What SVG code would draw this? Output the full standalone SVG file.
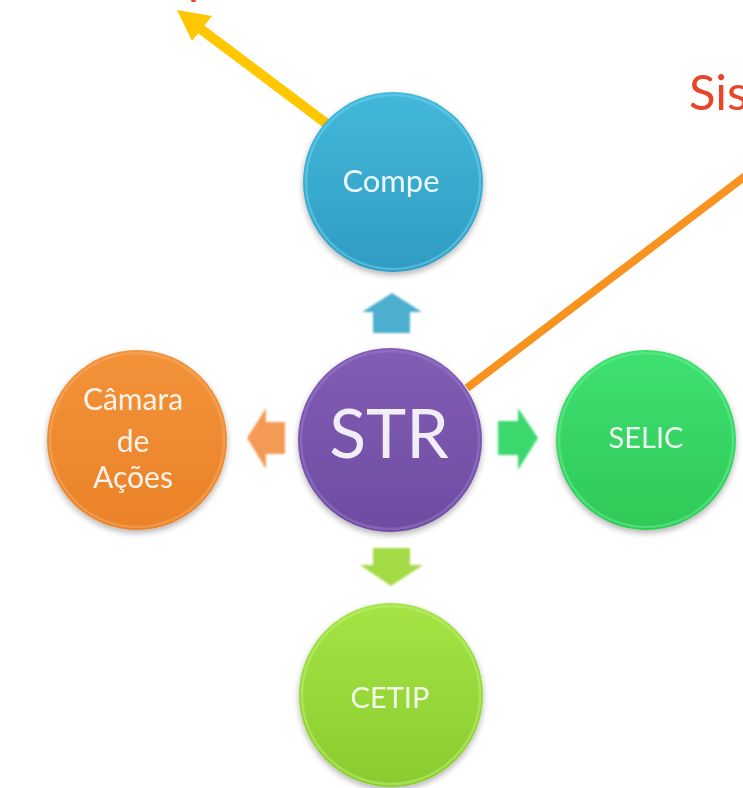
<svg xmlns="http://www.w3.org/2000/svg" width="743" height="788" viewBox="0 0 743 788">
  <defs>
    <linearGradient id="gBlue" x1="0" y1="0" x2="0" y2="1">
      <stop offset="0" stop-color="#43B8DA"/>
      <stop offset="1" stop-color="#2F9CC3"/>
    </linearGradient>
    <linearGradient id="gPurple" x1="0" y1="0" x2="0" y2="1">
      <stop offset="0" stop-color="#825DB5"/>
      <stop offset="1" stop-color="#6E4CA2"/>
    </linearGradient>
    <linearGradient id="gOrange" x1="0" y1="0" x2="0" y2="1">
      <stop offset="0" stop-color="#F3923A"/>
      <stop offset="1" stop-color="#EA8228"/>
    </linearGradient>
    <linearGradient id="gGreen" x1="0" y1="0" x2="0" y2="1">
      <stop offset="0" stop-color="#3EE072"/>
      <stop offset="1" stop-color="#2FC957"/>
    </linearGradient>
    <linearGradient id="gLime" x1="0" y1="0" x2="0" y2="1">
      <stop offset="0" stop-color="#A4E445"/>
      <stop offset="1" stop-color="#8ACB2E"/>
    </linearGradient>
    <filter id="shadow" x="-20%" y="-20%" width="140%" height="150%">
      <feGaussianBlur in="SourceAlpha" stdDeviation="3"/>
      <feOffset dy="3"/>
      <feComponentTransfer><feFuncA type="linear" slope="0.3"/></feComponentTransfer>
      <feMerge><feMergeNode/><feMergeNode in="SourceGraphic"/></feMerge>
    </filter>
    <filter id="soft" x="-20%" y="-20%" width="140%" height="140%">
      <feGaussianBlur stdDeviation="0.8"/>
    </filter>
  </defs>
  <style>
    .lbl { font-family: Lato, "Open Sans", "Liberation Sans", sans-serif; fill: #FFFFFF; text-anchor: middle; fill-opacity: 0.9; }
    .red { font-family: Lato, "Open Sans", "Liberation Sans", sans-serif; fill: #E8452A; }
    .rim { fill: none; stroke-width: 2.5; stroke-opacity: 0.5; }
  </style>
  <rect width="743" height="788" fill="#FFFFFF"/>

  <!-- partial red text cut at top and right -->
  <text class="red" x="188" y="-6" font-size="48">p</text>
  <text class="red" x="689" y="110" font-size="49">Sis</text>

  <g id="connectors">
    <!-- yellow arrow from Compe to top-left -->
    <line x1="327" y1="124" x2="198" y2="27" stroke="#FFC700" stroke-width="10"/>
    <polygon points="177,10 212,16 192,41" fill="#FFC700"/>
    <!-- orange line from STR to top-right -->
    <line x1="467" y1="388" x2="748" y2="174" stroke="#F7931E" stroke-width="8"/>
    <!-- block arrows -->
    <polygon filter="url(#soft)" points="392,293 422,312 410,312 410,333 373,333 373,312 362,312" fill="#4BAFCD"/>
    <polygon filter="url(#soft)" points="247,438 266,408 266,422 285,422 285,454 266,454 266,469" fill="#F49A56"/>
    <polygon filter="url(#soft)" points="538,438 518,408 518,421 498,421 498,455 518,455 518,470" fill="#3BD96D"/>
    <polygon filter="url(#soft)" points="391,586 423,565 410,565 410,548 373,548 373,565 360,565" fill="#A4DA45"/>
  </g>

  <g id="compe" filter="url(#shadow)">
    <circle cx="393" cy="182" r="90" fill="url(#gBlue)"/>
    <circle cx="393" cy="182" r="87" class="rim" stroke="#6FD3EE"/>
    <text class="lbl" x="391" y="192" font-size="31">Compe</text>
  </g>

  <g id="str" filter="url(#shadow)">
    <circle cx="390" cy="440" r="92" fill="url(#gPurple)"/>
    <circle cx="390" cy="440" r="89" class="rim" stroke="#9A7BCB"/>
    <text class="lbl" x="389" y="458" font-size="68">STR</text>
  </g>

  <g id="camara" filter="url(#shadow)">
    <circle cx="137" cy="440" r="90" fill="url(#gOrange)"/>
    <circle cx="137" cy="440" r="87" class="rim" stroke="#F8AE6A"/>
    <text class="lbl" x="133" y="410" font-size="30">Câmara</text>
    <text class="lbl" x="133" y="452" font-size="30">de</text>
    <text class="lbl" x="133" y="488" font-size="30">Ações</text>
  </g>

  <g id="selic" filter="url(#shadow)">
    <circle cx="646" cy="440" r="90" fill="url(#gGreen)"/>
    <circle cx="646" cy="440" r="87" class="rim" stroke="#6CF094"/>
    <text class="lbl" x="646" y="448" font-size="29">SELIC</text>
  </g>

  <g id="cetip" filter="url(#shadow)">
    <circle cx="391" cy="695" r="92" fill="url(#gLime)"/>
    <circle cx="391" cy="695" r="89" class="rim" stroke="#C2F07A"/>
    <text class="lbl" x="390" y="708" font-size="29">CETIP</text>
  </g>
</svg>
